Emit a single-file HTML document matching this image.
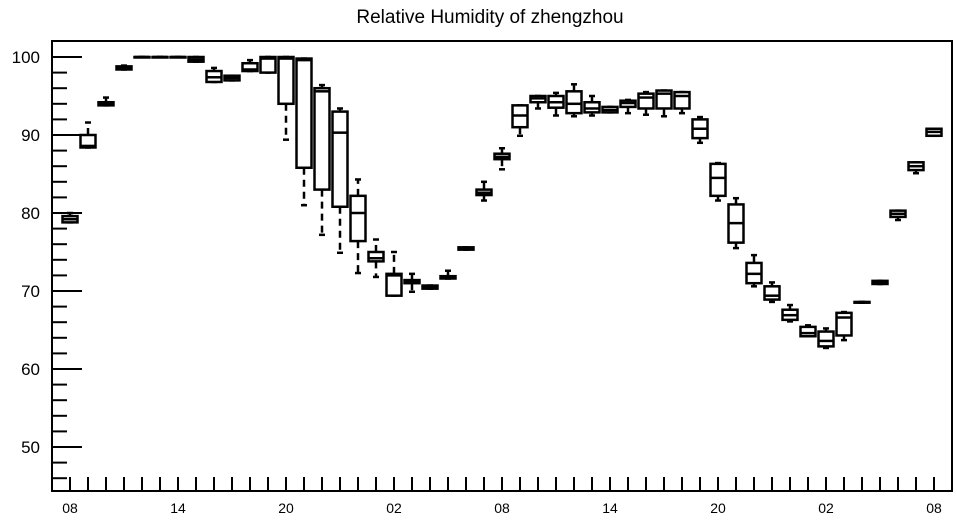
<!DOCTYPE html>
<html><head><meta charset="utf-8"><style>
html,body{margin:0;padding:0;background:#fff;}
svg{display:block;font-family:"Liberation Sans",sans-serif;}
</style></head><body>
<svg id="chart" width="957" height="520">
<text x="490" y="23" text-anchor="middle" font-size="19">Relative Humidity of zhengzhou</text>
<g id="axes"></g><g id="boxes"></g>
<rect x="52" y="41" width="900" height="450" fill="none" stroke="#000" stroke-width="2"/>
</svg>
<script>
const categories=["08","09","10","11","12","13","14","15","16","17","18","19","20","21","22","23","00","01","02","03","04","05","06","07","08","09","10","11","12","13","14","15","16","17","18","19","20","21","22","23","00","01","02","03","04","05","06","07","08"];
const mins=[78.8,88.4,93.8,98.4,100,100,100,99.4,96.8,97,98.2,98,89.4,81,77.2,74.9,72.3,71.8,69.4,69.9,70.3,71.6,75.3,81.6,85.6,89.9,93.4,92.5,92.4,92.5,92.9,92.8,92.6,92.4,92.8,89,81.6,75.5,70.6,68.6,66.1,64.2,62.7,63.7,68.5,70.9,79.1,85.1,89.9];
const q1s=[78.8,88.4,93.8,98.4,100,100,100,99.4,96.8,97,98.2,98,94,85.8,83,80.8,76.4,73.8,69.4,71,70.3,71.6,75.3,82.3,86.9,91,94.2,93.5,92.8,92.9,92.9,93.6,93.4,93.4,93.4,89.6,82.2,76.2,71,68.9,66.3,64.2,62.9,64.3,68.5,70.9,79.5,85.5,89.9];
const medians=[79.2,88.6,94,98.6,100,100,100,99.7,97.4,97.3,98.4,99.8,99.8,99.6,95.6,90.3,80,74.2,72,71.2,70.5,71.75,75.45,82.6,87.2,92.5,94.7,94.2,94,93.4,93.2,94.1,94.8,95.3,95,90.8,84.5,78.7,72.2,69.4,66.9,64.6,63.6,66.6,68.55,71.1,79.9,86,90.4];
const q3s=[79.6,90,94.2,98.8,100,100,100,100,98.2,97.6,99.2,100,100,99.8,96,93,82.2,75,72.2,71.4,70.7,71.9,75.6,83,87.6,93.8,95,95,95.6,94.2,93.6,94.4,95.3,95.7,95.5,92,86.3,81.1,73.6,70.6,67.6,65.4,64.8,67.2,68.6,71.3,80.3,86.5,90.8];
const maxs=[80,91.6,94.8,98.9,100,100,100,100,98.6,97.6,99.6,100,100,99.8,96.4,93.4,84.3,76.6,75,72.2,70.7,72.6,75.6,84,88.3,93.8,95,95.4,96.5,95,93.6,94.5,95.5,95.7,95.5,92.3,86.4,81.9,74.6,71.1,68.2,65.6,65.2,67.3,68.6,71.3,80.3,86.5,90.8];
const yMajor=[50,60,70,80,90,100];
const yMinor=[46,48,52,54,56,58,62,64,66,68,72,74,76,78,82,84,86,88,92,94,96,98];
const xLabelIdx=[0,6,12,18,24,30,36,42,48];

const NS="http://www.w3.org/2000/svg";
const y=v=>57+(100-v)*7.8;
const x=i=>70+i*18;
function el(t,a,p){const e=document.createElementNS(NS,t);for(const k in a)e.setAttribute(k,a[k]);p.appendChild(e);return e;}
const ax=document.getElementById('axes'),bx=document.getElementById('boxes');
yMajor.forEach(v=>{
  const t=el('line',{x1:52,x2:82,y1:y(v),y2:y(v),stroke:'#000','stroke-width':2},ax);
  
  
  const l=el('text',{x:40,y:y(v)+6,'text-anchor':'end','font-size':17},ax);
  l.textContent=v;
  
  
});
yMinor.forEach(v=>{
  const t=el('line',{x1:52,x2:67,y1:y(v),y2:y(v),stroke:'#000','stroke-width':2},ax);
  
  
});
categories.forEach((c,i)=>{
  const t=el('line',{x1:x(i),x2:x(i),y1:491,y2:477,stroke:'#000','stroke-width':2},ax);
  
  
  if(xLabelIdx.includes(i)){
    const l=el('text',{x:x(i),y:513,'text-anchor':'middle','font-size':14},ax);
    l.textContent=c;
    
    
  }
  const g=el('g',{stroke:'#000','stroke-width':2.5,fill:'none'},bx);
  
  
  const cx=x(i);
  el('line',{x1:cx,x2:cx,y1:y(q3s[i]),y2:y(maxs[i]),'stroke-dasharray':'7,5'},g);
  el('line',{x1:cx,x2:cx,y1:y(q1s[i]),y2:y(mins[i]),'stroke-dasharray':'7,5'},g);
  el('line',{x1:cx-3,x2:cx+3,y1:y(maxs[i]),y2:y(maxs[i])},g);
  el('line',{x1:cx-3,x2:cx+3,y1:y(mins[i]),y2:y(mins[i])},g);
  el('rect',{x:cx-7.5,y:y(q3s[i]),width:15,height:Math.max(y(q1s[i])-y(q3s[i]),0.5),fill:'#fff'},g);
  el('line',{x1:cx-7.5,x2:cx+7.5,y1:y(medians[i]),y2:y(medians[i])},g);
});
</script>
</body></html>
